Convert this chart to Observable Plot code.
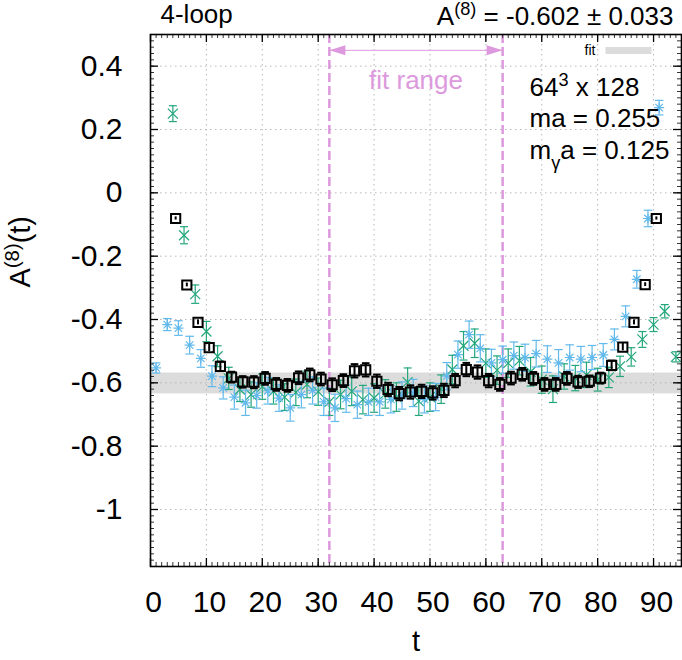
<!DOCTYPE html>
<html><head><meta charset="utf-8">
<script src="https://cdn.jsdelivr.net/npm/d3@7"></script>
<script src="https://cdn.jsdelivr.net/npm/@observablehq/plot@0.6"></script>
<style>body{margin:0;background:#fff} svg{display:block}</style>
</head><body><div id="chart"></div>
<script>
// ---- data ----
const blackT = [4.5,6.5,8.5,10.5,12.5,14.5,16.5,18.5,20.5,22.5,24.5,26.5,28.5,30.5,32.5,34.5,36.5,38.5,40.5,42.5,44.5,46.5,48.5,50.5,52.5,54.5,56.5,58.5,60.5,62.5,64.5,66.5,68.5,70.5,72.5,74.5,76.5,78.5,80.5,82.5,84.5,86.5,88.5,90.5];
const blackV = [-0.081,-0.291,-0.409,-0.489,-0.548,-0.582,-0.597,-0.598,-0.586,-0.605,
 -0.608,-0.584,-0.575,-0.588,-0.606,-0.593,-0.562,-0.559,-0.595,-0.621,
 -0.634,-0.629,-0.627,-0.632,-0.624,-0.593,-0.558,-0.566,-0.593,-0.605,
 -0.585,-0.573,-0.586,-0.605,-0.605,-0.586,-0.597,-0.595,-0.585,-0.545,
 -0.487,-0.409,-0.290,-0.081];
const blackE = [0.005,0.006,0.008,0.012,0.015,0.017,0.018,0.019,0.020,0.020,
 0.020,0.020,0.020,0.020,0.020,0.020,0.021,0.021,0.021,0.021,
 0.021,0.021,0.021,0.021,0.021,0.021,0.021,0.021,0.021,0.020,
 0.020,0.020,0.020,0.020,0.020,0.020,0.019,0.018,0.017,0.015,
 0.012,0.008,0.006,0.005];

const greenT = [4,6,8,10,12,14,16,18,20,22,24,26,28,30,32,34,36,38,40,42,44,46,48,50,52,54,56,58,60,62,64,66,68,70,72,74,76,78,80,82,84,86,88,90,92,94];
const greenV = [0.250,-0.134,-0.320,-0.438,-0.516,-0.586,-0.621,-0.637,-0.612,-0.627,
 -0.645,-0.630,-0.605,-0.628,-0.660,-0.637,-0.627,-0.653,-0.648,-0.635,
 -0.645,-0.598,-0.658,-0.645,-0.620,-0.558,-0.483,-0.475,-0.538,-0.560,
 -0.538,-0.530,-0.565,-0.590,-0.620,-0.580,-0.585,-0.575,-0.590,-0.583,
 -0.548,-0.518,-0.463,-0.416,-0.374,-0.518];
const greenE = [0.025,0.027,0.029,0.032,0.033,0.035,0.038,0.040,0.040,0.040,
 0.042,0.042,0.042,0.043,0.043,0.045,0.045,0.045,0.045,0.045,
 0.045,0.045,0.045,0.045,0.045,0.045,0.045,0.045,0.045,0.045,
 0.045,0.045,0.045,0.043,0.042,0.040,0.040,0.040,0.036,0.032,
 0.032,0.029,0.025,0.022,0.021,0.016];

const blueT = [1,3,5,7,9,11,13,15,17,19,21,23,25,27,29,31,33,35,37,39,41,43,45,47,49,51,53,55,57,59,61,63,65,67,69,71,73,75,77,79,81,83,85,87,89,91];
const blueV = [-0.553,-0.416,-0.427,-0.481,-0.523,-0.579,-0.616,-0.645,-0.663,-0.640,
 -0.625,-0.648,-0.679,-0.637,-0.624,-0.660,-0.679,-0.650,-0.669,-0.660,
 -0.660,-0.652,-0.640,-0.632,-0.652,-0.645,-0.579,-0.511,-0.448,-0.491,
 -0.537,-0.527,-0.514,-0.521,-0.508,-0.525,-0.537,-0.520,-0.525,-0.520,
 -0.512,-0.463,-0.390,-0.273,-0.081,0.269];
const blueE = [0.016,0.019,0.023,0.028,0.028,0.033,0.035,0.038,0.040,0.040,
 0.042,0.042,0.042,0.042,0.043,0.043,0.043,0.043,0.043,0.043,
 0.043,0.043,0.043,0.043,0.043,0.043,0.043,0.043,0.043,0.043,
 0.043,0.043,0.043,0.043,0.042,0.042,0.042,0.040,0.040,0.038,
 0.036,0.033,0.033,0.028,0.026,0.023];

const fitValue = -0.602, fitError = 0.033;
const fitRange = [32, 63];
const xTicks = [0,10,20,30,40,50,60,70,80,90];
const yTicks = [-1,-0.8,-0.6,-0.4,-0.2,0,0.2,0.4];

// ---- layout ----
const W = 682, H = 660, MT = 34, MB = 94, ML = 150, MR = 1;
const IW = W - ML - MR, IH = H - MT - MB;
const FONT = "'Liberation Sans', Arial, Helvetica, sans-serif";
const GREEN = "#23a67c", BLUE = "#62b9eb", PINK = "#dd99dd";

function sym(fn){ return {draw(ctx, size){ fn(ctx, Math.sqrt(size / Math.PI)); }}; }
const squareSym = sym((c,h)=>{c.moveTo(-h,-h);c.lineTo(h,-h);c.lineTo(h,h);c.lineTo(-h,h);c.closePath();});
const timesSym = sym((c,h)=>{c.moveTo(-h,-h);c.lineTo(h,h);c.moveTo(-h,h);c.lineTo(h,-h);});
const starSym = sym((c,h)=>{c.moveTo(-h,0);c.lineTo(h,0);c.moveTo(0,-h);c.lineTo(0,h);const k=h*0.75;c.moveTo(-k,-k);c.lineTo(k,k);c.moveTo(-k,k);c.lineTo(k,-k);});
const capSym = sym((c,h)=>{c.moveTo(-h,0);c.lineTo(h,0);});
const headLeft = {draw(c){c.moveTo(0,0);c.lineTo(16,-5);c.lineTo(16,5);c.closePath();}};
const headRight = {draw(c){c.moveTo(0,0);c.lineTo(-16,-5);c.lineTo(-16,5);c.closePath();}};
const swatchSym = {draw(c){c.moveTo(-23,-3.5);c.lineTo(23,-3.5);c.lineTo(23,3.5);c.lineTo(-23,3.5);c.closePath();}};

function series(T, V, E, color, symbol, r, sw, capR, minCapE) {
  const data = T.map((t, i) => ({t, v: V[i], e: E[i]}));
  const capped = d => d.e > minCapE;
  return [
    Plot.ruleX(data, {x: "t", y1: d => d.v - d.e, y2: d => d.v + d.e, stroke: color, strokeWidth: sw}),
    Plot.dot(data, {filter: capped, x: "t", y: d => d.v - d.e, symbol: capSym, r: capR, stroke: color, fill: "none", strokeWidth: sw}),
    Plot.dot(data, {filter: capped, x: "t", y: d => d.v + d.e, symbol: capSym, r: capR, stroke: color, fill: "none", strokeWidth: sw}),
    Plot.dot(data, {x: "t", y: "v", symbol, r, stroke: color, fill: "none", strokeWidth: sw})
  ];
}

const xMinor = d3.range(1, 95);
const yMinor = d3.range(-59, 25).map(i => i * 0.02);
const fmtY = d => d === 0 ? "0" : String(Math.round(d * 10) / 10);
const arrowY = 0.45;
const mid = {lineAnchor: "middle"};

const svg = Plot.plot({
  width: W, height: H,
  marginTop: MT, marginBottom: MB, marginLeft: ML, marginRight: MR,
  style: {fontFamily: FONT, background: "#fff", color: "#000"},
  x: {domain: [0, 95]},
  y: {domain: [-1.18, 0.5]},
  marks: [
    // fit band
    Plot.rect([{v: fitValue, e: fitError}], {y1: d => d.v - d.e, y2: d => d.v + d.e, fill: "#dcdcdc"}),
    // grid
    Plot.ruleX(xTicks.filter(d => d > 0), {stroke: "#b8b8b8", strokeWidth: 1, strokeDasharray: "1.5,3.5"}),
    Plot.ruleY(yTicks, {stroke: "#b8b8b8", strokeWidth: 1, strokeDasharray: "1.5,3.5"}),
    // fit range
    Plot.ruleX(fitRange, {stroke: PINK, strokeWidth: 2.5, strokeDasharray: "9,4"}),
    Plot.ruleY([arrowY], {x1: fitRange[0], x2: fitRange[1], stroke: PINK, strokeWidth: 1}),
    Plot.dot([fitRange[0]], {x: d => d, y: arrowY, symbol: headLeft, fill: PINK, stroke: "none"}),
    Plot.dot([fitRange[1]], {x: d => d, y: arrowY, symbol: headRight, fill: PINK, stroke: "none"}),
    Plot.text(["fit range"], {...mid, x: () => (fitRange[0] + fitRange[1]) / 2, frameAnchor: "top", dy: 46, fill: PINK, fontSize: 26}),
    // data
    ...series(greenT, greenV, greenE, GREEN, timesSym, 5, 1.2, 4, 0),
    ...series(blueT, blueV, blueE, BLUE, starSym, 5, 1.2, 4.3, 0),
    ...series(blackT, blackV, blackE, "#000", squareSym, 4.6, 2, 3.8, 0.0145),
    // ticks (inward, mirrored)
    Plot.tickX(xMinor, {x: d => d, insetBottom: IH - 4, stroke: "#333"}),
    Plot.tickX(xMinor, {x: d => d, insetTop: IH - 4, stroke: "#333"}),
    Plot.tickX(xTicks, {x: d => d, insetBottom: IH - 8, stroke: "#000", strokeWidth: 1.3}),
    Plot.tickX(xTicks, {x: d => d, insetTop: IH - 8, stroke: "#000", strokeWidth: 1.3}),
    Plot.tickY(yMinor, {y: d => d, insetRight: IW - 4, stroke: "#333"}),
    Plot.tickY(yMinor, {y: d => d, insetLeft: IW - 4, stroke: "#333"}),
    Plot.tickY(yTicks, {y: d => d, insetRight: IW - 8, stroke: "#000", strokeWidth: 1.3}),
    Plot.tickY(yTicks, {y: d => d, insetLeft: IW - 8, stroke: "#000", strokeWidth: 1.3}),
    // axes labels
    Plot.axisX(xTicks, {anchor: "bottom", tickSize: 0, tickPadding: 24, fontSize: 30, dx: 3, tickFormat: d => String(d), label: null}),
    Plot.axisY(yTicks, {anchor: "left", tickSize: 0, tickPadding: 22, dx: -6, fontSize: 30, tickFormat: fmtY, label: null}),
    Plot.text(["t"], {...mid, frameAnchor: "bottom", dy: 75, fontSize: 29}),
    Plot.text(["A^{(8)}(t)"], {...mid, frameAnchor: "left", rotate: -90, dx: -130, dy: -13, fontSize: 29}),
    // titles
    Plot.text(["4-loop"], {...mid, frameAnchor: "top-left", textAnchor: "start", dx: 10, dy: -20, fontSize: 26}),
    Plot.text(["A^{(8)} = -0.602 ± 0.033"], {...mid, frameAnchor: "top-right", textAnchor: "end", dx: -8, dy: -18, fontSize: 26}),
    // legend
    Plot.text(["fit"], {...mid, frameAnchor: "top-right", textAnchor: "end", dx: -86, dy: 16, fontSize: 14}),
    Plot.dot(["fit"], {frameAnchor: "top-right", dx: -53, dy: 16, symbol: swatchSym, fill: "#dcdcdc", stroke: "none"}),
    // annotations
    Plot.text(["64^{3} x 128"], {...mid, frameAnchor: "top-left", textAnchor: "start", dx: 379, dy: 53, fontSize: 26}),
    Plot.text(["ma = 0.255"], {...mid, frameAnchor: "top-left", textAnchor: "start", dx: 379, dy: 84, fontSize: 26}),
    Plot.text(["m_{γ}a = 0.125"], {...mid, frameAnchor: "top-left", textAnchor: "start", dx: 379, dy: 116, fontSize: 26}),
    Plot.frame({stroke: "#000", strokeWidth: 1.6})
  ]
});

// rich text: ^{...} superscript, _{...} subscript
d3.select(svg).selectAll("text").each(function() {
  const s = this.textContent;
  if (!/[\^_]\{/.test(s)) return;
  const el = d3.select(this);
  el.text(null);
  const re = /([\^_])\{([^}]*)\}/g;
  let last = 0, m;
  while ((m = re.exec(s))) {
    if (m.index > last) el.append("tspan").text(s.slice(last, m.index));
    el.append("tspan")
      .attr("baseline-shift", m[1] === "^" ? "super" : "sub")
      .attr("font-size", "70%")
      .text(m[2]);
    last = re.lastIndex;
  }
  if (last < s.length) el.append("tspan").text(s.slice(last));
});

document.getElementById("chart").appendChild(svg);
</script>
</body></html>
